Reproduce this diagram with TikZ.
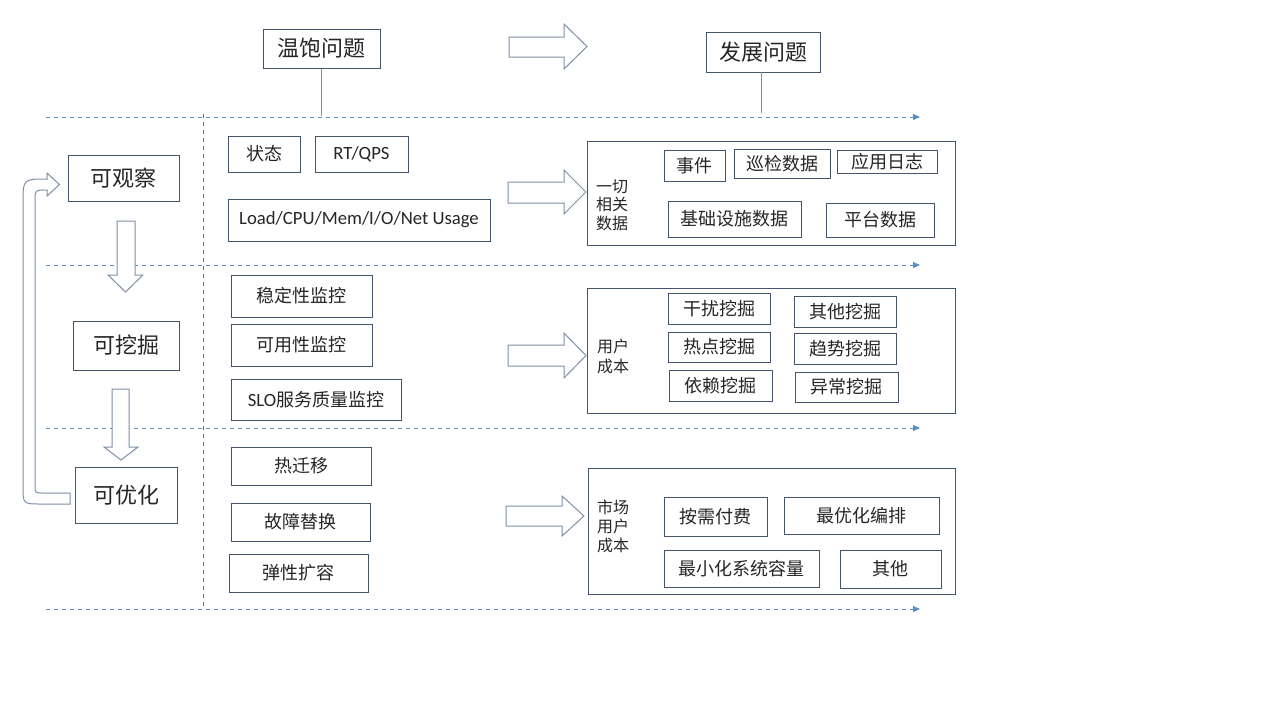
\documentclass[tikz,border=0pt]{standalone}
\usepackage{fontspec}
\setmainfont{Noto Sans CJK SC}
\newfontfamily\lat{Carlito}
\usetikzlibrary{arrows.meta}
\definecolor{bord}{HTML}{44546A}
\definecolor{dashc}{HTML}{5B8FC8}
\definecolor{vdashc}{HTML}{5E7D9E}
\definecolor{arrc}{HTML}{7F90A8}
\definecolor{txt}{HTML}{262626}
\newcommand\harr[7]{\draw[blockarr] (#1,#5) -- (#2,#5) -- (#2,#4) -- (#3,{(#4+#7)/2}) -- (#2,#7) -- (#2,#6) -- (#1,#6) -- cycle;}
\newcommand\varr[7]{\draw[blockarr] (#5,#1) -- (#5,#2) -- (#4,#2) -- ({(#4+#7)/2},#3) -- (#7,#2) -- (#6,#2) -- (#6,#1) -- cycle;}
\begin{document}
\begin{tikzpicture}[x=1pt,y=-1pt,
  bx/.style={draw=bord,line width=1pt,inner sep=0pt,text=txt,font=\fontsize{18}{20}\selectfont},
  latbx/.style={bx,font=\lat\fontsize{18.7}{20}\selectfont},
  bigbx/.style={bx,font=\fontsize{22}{24}\selectfont},
  panel/.style={draw=bord,line width=1pt,inner sep=0pt},
  lbl/.style={inner sep=0pt,text=txt,align=left,anchor=west,font=\fontsize{16}{18.5}\selectfont},
  blockarr/.style={draw=arrc,line width=1pt,fill=white},
  dline/.style={draw=dashc,line width=0.8pt,dash pattern=on 4pt off 4pt},
  dlinearr/.style={dline,-{Triangle[length=7pt,width=6pt]}},
  vline/.style={draw=vdashc,line width=0.8pt,dash pattern=on 4pt off 4pt},
  conn/.style={draw=arrc,line width=1pt}]
\useasboundingbox (0,0) rectangle (1280,720);
\fill[white] (0,0) rectangle (1280,720);

% dashed guide lines
\foreach \n/\yy in {1/117,2/265,3/428,4/609}{
  \coordinate (ds\n) at (46,\yy);
  \coordinate (de\n) at (920,\yy);
  \draw[dlinearr] (ds\n) -- (de\n);
}
\coordinate (vs) at (203,114);
\coordinate (ve) at (203,609);
\draw[vline] (vs) -- (ve);

% top headers
\node[bigbx,minimum width=117,minimum height=39] (wb) at (321.5,48.5) {温饱问题};
\node[bigbx,minimum width=114,minimum height=40] (fz) at (763,52) {发展问题};
\coordinate (wbe) at (321.5,116);
\coordinate (fzs) at (761,72);
\coordinate (fze) at (761,113);
\draw[conn] (wb.south) -- (wbe);
\draw[conn] (fzs) -- (fze);
\harr{509}{564}{587}{24}{37}{57}{69}

% left stages
\node[bigbx,minimum width=111,minimum height=46] (gc) at (123.5,178) {可观察};
\node[bigbx,minimum width=106,minimum height=49] (wj) at (126,345.5) {可挖掘};
\node[bigbx,minimum width=102,minimum height=56] (yh) at (126,495) {可优化};
\varr{221}{275}{292}{108}{117}{135}{143}
\varr{389}{447}{460}{104}{112}{129}{138}
% loop arrow
\draw[blockarr] (70,504) -- (41,504) .. controls (23,504) .. (23,486) -- (23,203)
  .. controls (23,179) .. (47,179) -- (47,173) -- (59.5,184.5) -- (47,196)
  -- (47,190) .. controls (35,190) .. (35,202) -- (35,485)
  .. controls (35,493) .. (43,493) -- (70,493) -- cycle;

% middle column
\node[bx,minimum width=72,minimum height=36] (zt) at (264,154) {状态};
\node[latbx,minimum width=93,minimum height=36] (rt) at (361.5,154) {RT/QPS};
\node[latbx,minimum width=262,minimum height=42] (load) at (359,220) {Load/CPU/Mem/I/O/Net Usage};
\node[bx,minimum width=141,minimum height=42] (wd) at (301.5,296) {稳定性监控};
\node[bx,minimum width=141,minimum height=42] (ky) at (301.5,345) {可用性监控};
\node[bx,minimum width=170,minimum height=41] (slo) at (316,399.5) {{\lat\fontsize{18.7}{20}\selectfont SLO}服务质量监控};
\node[bx,minimum width=140,minimum height=38] (rq) at (301,466) {热迁移};
\node[bx,minimum width=139,minimum height=38] (gz) at (300.5,522) {故障替换};
\node[bx,minimum width=139,minimum height=38] (tx) at (298.5,573) {弹性扩容};

% middle arrows
\harr{508}{564}{586}{170}{182}{203}{214}
\harr{508}{564}{586}{333}{345}{366}{378}
\harr{506}{562}{584}{496}{506}{526}{536}

% right panel 1
\node[panel,minimum width=368,minimum height=104] (p1) at (771,193) {};
\node[lbl] (l1) at (596,205) {一切\\相关\\数据};
\node[bx,minimum width=61,minimum height=31] (sj) at (694.5,165.5) {事件};
\node[bx,minimum width=96,minimum height=29] (xj) at (782,163.5) {巡检数据};
\node[bx,minimum width=100,minimum height=23] (yy) at (887,161.5) {应用日志};
\node[bx,minimum width=133,minimum height=36] (jc) at (734.5,219) {基础设施数据};
\node[bx,minimum width=108,minimum height=34] (pt) at (880,220) {平台数据};

% right panel 2
\node[panel,minimum width=368,minimum height=125] (p2) at (771,350.5) {};
\node[lbl,font=\fontsize{16}{20}\selectfont] (l2) at (597,356.5) {用户\\成本};
\node[bx,minimum width=102,minimum height=31] (gr) at (719,308.5) {干扰挖掘};
\node[bx,minimum width=102,minimum height=31] (qt) at (845,311.5) {其他挖掘};
\node[bx,minimum width=102,minimum height=30] (rd) at (719,347) {热点挖掘};
\node[bx,minimum width=102,minimum height=31] (qs) at (845,348.5) {趋势挖掘};
\node[bx,minimum width=103,minimum height=31] (yl) at (720.5,385.5) {依赖挖掘};
\node[bx,minimum width=103,minimum height=30] (yc) at (846.5,387) {异常挖掘};

% right panel 3
\node[panel,minimum width=367,minimum height=126] (p3) at (771.5,531) {};
\node[lbl,font=\fontsize{16}{19}\selectfont] (l3) at (597,526) {市场\\用户\\成本};
\node[bx,minimum width=103,minimum height=39] (af) at (715.5,516.5) {按需付费};
\node[bx,minimum width=155,minimum height=37] (zy) at (861.5,515.5) {最优化编排};
\node[bx,minimum width=155,minimum height=37] (zx) at (741.5,568.5) {最小化系统容量};
\node[bx,minimum width=101,minimum height=38] (qt2) at (890.5,569) {其他};
\end{tikzpicture}
\end{document}
